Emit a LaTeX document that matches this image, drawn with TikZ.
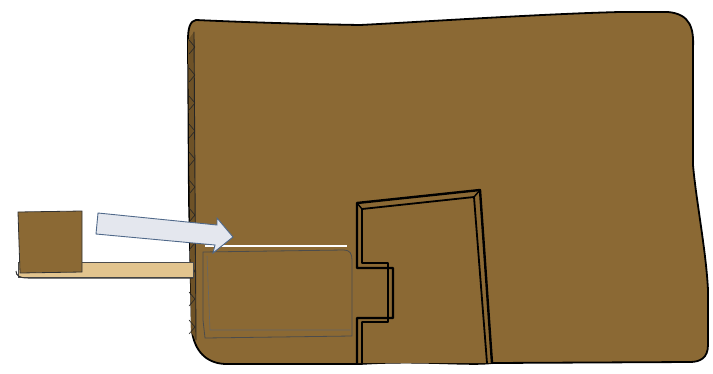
\documentclass[tikz,border=0pt]{standalone}
\usetikzlibrary{calc}
\definecolor{cardboard}{HTML}{8B6934}
\definecolor{cardedge}{HTML}{6E5227}
\definecolor{stick}{HTML}{E2C48E}
\definecolor{arrowfill}{HTML}{E4E7EE}
\definecolor{arrowline}{HTML}{50698A}
\tikzset{
  inkline/.style={draw=black, line width=1.8pt, line join=round, line cap=round},
  thinink/.style={draw=black!85, line width=0.9pt, line join=round, line cap=round},
  boxfill/.style={fill=cardboard},
}
\begin{document}
\begin{tikzpicture}[x=1pt,y=-1pt]
\useasboundingbox (0,0) rectangle (713,373);

% main carton body
\path[boxfill, inkline]
  (196,20) .. controls (240,22) and (300,24) .. (360,25)
  .. controls (420,22) and (540,14) .. (620,12)
  -- (668,12) .. controls (690,14) and (694,28) .. (693,48)
  -- (693,165) .. controls (696,200) and (706,250) .. (708,290)
  -- (708,345) .. controls (708,358) and (700,362) .. (690,362)
  -- (492,363) .. controls (470,366) and (420,360) .. (360,364)
  -- (225,364) .. controls (205,363) and (195,350) .. (192,332)
  -- (189,200) -- (188,40) .. controls (188,28) and (190,21) .. (196,20) -- cycle;

% corrugated left flank
\path[fill=cardedge] (188,40) -- (194,32) -- (196,340) -- (191,332) -- cycle;
\draw[thinink] (194,32) -- (196,340);
\foreach \yy in {40,68,96,124,152,180,208,236,264,292,320}{
  \draw[thinink, line width=0.6pt] (189,\yy) -- (195,\yy+7) -- (189,\yy+14) ;
}

% doorway cut with its raised frame
\path[boxfill] (357,203) -- (480,190) -- (492,363) -- (357,363) -- cycle;
\draw[inkline, line width=2.4pt] (357,363) -- (357,318) -- (393,318) -- (393,268) -- (357,268) -- (357,203) -- (480,190) -- (492,363);
\draw[inkline, line width=1.8pt] (362,363) -- (362,322) -- (388,322) -- (388,263) -- (362,263) -- (362,209) -- (474,197) -- (487,363);
\draw[inkline, line width=1.4pt] (474,197) -- (480,190);
\draw[inkline, line width=1.4pt] (357,203) -- (362,209);

% block pushed into the carton
\draw[white, line width=2pt] (205,246) -- (347,246);
\path[boxfill, draw=black!70, line width=0.8pt]
  (203,252) -- (344,250) .. controls (350,250) and (352,254) .. (352,260)
  -- (352,336) -- (205,338) -- (203,320) -- cycle;
\draw[draw=black!60, line width=0.6pt] (207,256) -- (210,330) -- (350,330);

% stick holding the small block
\path[fill=stick, draw=black!70, line width=0.7pt] (18,262) -- (193,262) -- (193,277) -- (18,277) -- cycle;
\draw[black!80, line width=1pt] (16,271) .. controls (16,276) and (20,278) .. (28,278) -- (193,278);

% small block on the end of the stick
\path[boxfill, draw=black!80, line width=0.8pt] (18,212) -- (82,211) -- (82,272) -- (20,273) -- cycle;

% push direction arrow
\path[fill=arrowfill, draw=arrowline, line width=0.9pt, line join=miter]
  (98,213) -- (217,225) -- (217,218) -- (233,237) -- (213,253) -- (215,245) -- (96,234) -- cycle;
\end{tikzpicture}
\end{document}
